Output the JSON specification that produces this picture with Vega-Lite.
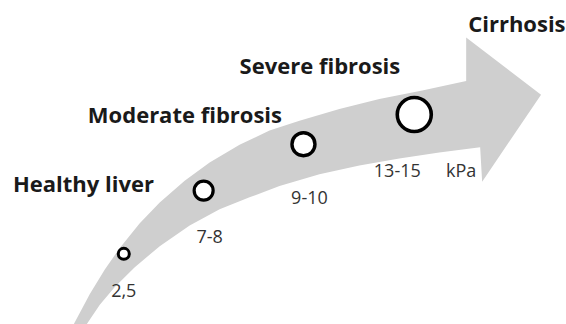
{
  "$schema": "https://vega.github.io/schema/vega-lite/v6.json",
  "autosize": {"type": "fit", "contains": "padding"},
  "width": 566,
  "height": 324,
  "padding": 0,
  "background": "white",
  "config": {"view": {"stroke": null}},
  "datasets": {
    "arrow": [
      {"o": 1, "x": 74, "y": 328},
      {"o": 2, "x": 90, "y": 297.6},
      {"o": 3, "x": 105, "y": 272.9},
      {"o": 4, "x": 120, "y": 251.1},
      {"o": 5, "x": 140, "y": 226.1},
      {"o": 6, "x": 160, "y": 205.1},
      {"o": 7, "x": 185, "y": 183.1},
      {"o": 8, "x": 210, "y": 164.6},
      {"o": 9, "x": 240, "y": 146.6},
      {"o": 10, "x": 270, "y": 132.2},
      {"o": 11, "x": 300, "y": 122.3},
      {"o": 12, "x": 340, "y": 110.3},
      {"o": 13, "x": 380, "y": 100.3},
      {"o": 14, "x": 423, "y": 91.7},
      {"o": 15, "x": 467, "y": 82},
      {"o": 16, "x": 467, "y": 38},
      {"o": 17, "x": 542, "y": 96},
      {"o": 18, "x": 483, "y": 184},
      {"o": 19, "x": 481, "y": 149.1},
      {"o": 20, "x": 440, "y": 154.4},
      {"o": 21, "x": 400, "y": 160.4},
      {"o": 22, "x": 360, "y": 167.6},
      {"o": 23, "x": 320, "y": 176.4},
      {"o": 24, "x": 280, "y": 188.4},
      {"o": 25, "x": 250, "y": 199.8},
      {"o": 26, "x": 220, "y": 211.8},
      {"o": 27, "x": 190, "y": 228.3},
      {"o": 28, "x": 160, "y": 249.3},
      {"o": 29, "x": 135, "y": 270.5},
      {"o": 30, "x": 115, "y": 290.5},
      {"o": 31, "x": 100, "y": 308.5},
      {"o": 32, "x": 87, "y": 328}
    ],
    "points": [
      {"kpa": "2,5", "x": 124, "y": 257, "size": 121, "sw": 3},
      {"kpa": "7-8", "x": 204, "y": 193, "size": 361, "sw": 3.2},
      {"kpa": "9-10", "x": 304, "y": 146, "size": 529, "sw": 3.4},
      {"kpa": "13-15", "x": 415, "y": 116, "size": 1156, "sw": 3.6}
    ],
    "stages": [
      {"label": "Healthy liver", "x": 13, "y": 187},
      {"label": "Moderate fibrosis", "x": 88, "y": 117},
      {"label": "Severe fibrosis", "x": 240, "y": 68},
      {"label": "Cirrhosis", "x": 469, "y": 25}
    ],
    "values": [
      {"label": "2,5", "x": 124, "y": 296},
      {"label": "7-8", "x": 210, "y": 241},
      {"label": "9-10", "x": 310, "y": 201},
      {"label": "13-15", "x": 398, "y": 174},
      {"label": "kPa", "x": 462, "y": 174}
    ]
  },
  "layer": [
    {
      "data": {"name": "arrow"},
      "mark": {"type": "line", "filled": true, "color": "#cfcfcf", "strokeWidth": 0, "interpolate": "linear-closed"},
      "encoding": {
        "x": {"field": "x", "type": "quantitative", "scale": {"domain": [0, 566], "nice": false, "zero": false}, "axis": null},
        "y": {"field": "y", "type": "quantitative", "scale": {"domain": [0, 324], "nice": false, "zero": false, "reverse": true}, "axis": null},
        "order": {"field": "o"}
      }
    },
    {
      "data": {"name": "points"},
      "mark": {"type": "point", "shape": "circle", "filled": false, "fill": "white", "fillOpacity": 1, "stroke": "black", "opacity": 1},
      "encoding": {
        "x": {"field": "x", "type": "quantitative"},
        "y": {"field": "y", "type": "quantitative"},
        "size": {"field": "size", "type": "quantitative", "scale": null},
        "strokeWidth": {"field": "sw", "type": "quantitative", "scale": null}
      }
    },
    {
      "data": {"name": "stages"},
      "mark": {"type": "text", "align": "left", "baseline": "middle", "font": "Open Sans", "fontWeight": "bold", "fontSize": 22, "color": "#1a1a1a"},
      "encoding": {
        "x": {"field": "x", "type": "quantitative"},
        "y": {"field": "y", "type": "quantitative"},
        "text": {"field": "label"}
      }
    },
    {
      "data": {"name": "values"},
      "mark": {"type": "text", "align": "center", "baseline": "middle", "font": "Open Sans", "fontSize": 18, "color": "#333333"},
      "encoding": {
        "x": {"field": "x", "type": "quantitative"},
        "y": {"field": "y", "type": "quantitative"},
        "text": {"field": "label"}
      }
    }
  ]
}
